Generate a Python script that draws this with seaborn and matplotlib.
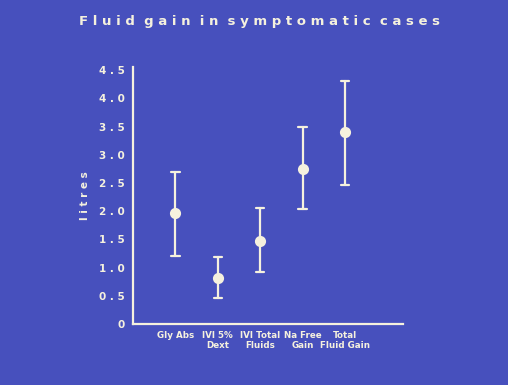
import matplotlib
matplotlib.use("Agg")
import matplotlib.pyplot as plt
import seaborn as sns
import pandas as pd

categories = ["Gly Abs", "IVI 5%\nDext", "IVI Total\nFluids", "Na Free\nGain", "Total\nFluid Gain"]
means = [1.97, 0.82, 1.47, 2.75, 3.40]
lows = [1.21, 0.47, 0.92, 2.04, 2.46]
highs = [2.70, 1.19, 2.06, 3.49, 4.31]
yticks = [0, 0.5, 1.0, 1.5, 2.0, 2.5, 3.0, 3.5, 4.0, 4.5]
ytick_labels = ["0", "0 . 5", "1 . 0", "1 . 5", "2 . 0", "2 . 5", "3 . 0", "3 . 5", "4 . 0", "4 . 5"]

rows = []
for c, lo, m, hi in zip(categories, lows, means, highs):
    for v in (lo, m, hi):
        rows.append({"cat": c, "val": v})
df = pd.DataFrame(rows)

BG = "#4750bd"
FG = "#f5f1de"

sns.set_style("dark")
plt.rcParams["font.family"] = ["DejaVu Sans"]

fig = plt.figure(figsize=(5.08, 3.85), dpi=100, facecolor=BG)
ax = fig.add_axes([0.2618, 0.1584, 0.5314, 0.6666])
ax.set_facecolor(BG)

sns.pointplot(data=df, x="cat", y="val", order=categories, estimator="median",
              errorbar=("pi", 100), capsize=0.2, linestyle="none",
              color=FG, markersize=6, err_kws={"linewidth": 1.6}, ax=ax)

ax.set_xlim(-1, 5.37)
ax.set_ylim(0, 4.55)
ax.set_yticks(yticks)
ax.set_yticklabels(ytick_labels, fontsize=7.5, fontweight="bold", color=FG)
ax.set_xticks(range(len(categories)))
ax.set_xticklabels(categories, fontsize=6.3, fontweight="bold", color=FG, linespacing=1.1)
ax.tick_params(axis="both", colors=FG, length=4, width=1.5, direction="out", pad=2)
ax.tick_params(axis="x", pad=1)
ax.grid(False)
for s in ["top", "right"]:
    ax.spines[s].set_visible(False)
for s in ["left", "bottom"]:
    ax.spines[s].set_visible(True)
    ax.spines[s].set_color(FG)
    ax.spines[s].set_linewidth(1.6)
ax.set_xlabel("")
ax.set_ylabel("l i t r e s", fontsize=7.5, fontweight="bold", color=FG, labelpad=6)

fig.text(0.51, 0.943, "F l u i d  g a i n  i n  s y m p t o m a t i c  c a s e s",
         ha="center", va="center", fontsize=9.5, fontweight="bold", color=FG)

fig.savefig("out.png", dpi=100, facecolor=BG)
